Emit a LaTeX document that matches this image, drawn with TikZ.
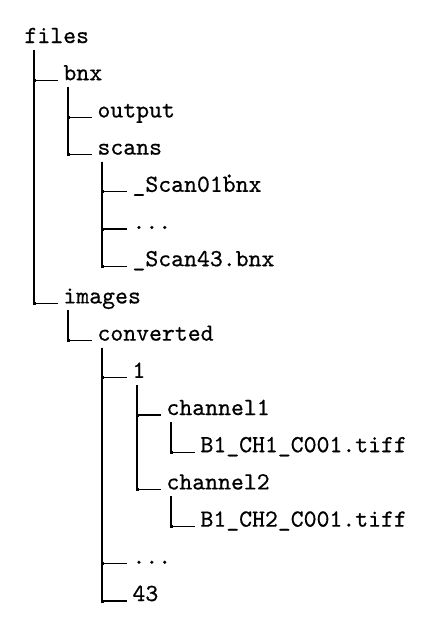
\documentclass[tikz,border=0pt]{standalone}
\usepackage{fontspec}
\setmonofont{Latin Modern Mono}[FakeBold=0.6]
\usetikzlibrary{positioning,calc}
\tikzset{
  entry/.style={anchor=base west, inner sep=0pt, font=\ttfamily},
  branch/.style={draw=black, line width=0.5pt},
  knot/.style={fill=black},
}
% parent, child, offset of the stem
\newcommand{\twig}[3]{%
  \draw[branch] ($(#1.base west)+(#3,7)$) |- coordinate[pos=0.5] (j) ($(#2.base west)+(-5,0)$);
  \fill[knot] ($(j)+(-1.5,-1.5)$) rectangle ($(j)+(1.5,1.5)$);
}

\begin{document}
\begin{tikzpicture}[x=0.407pt, y=-0.407pt]
  \useasboundingbox (0,0) rectangle (424,626);
  \node[entry] (files) at (24,43) {files};
  \node[entry] (bnx) at (63,80.2) {bnx};
  \node[entry] (output) at (97,117.4) {output};
  \node[entry] (scans) at (97,154.6) {scans};
  \node[entry] (scanA) at (132,191.8) {\_Scan01b\llap{\raisebox{5.8pt}{.}}nx};
  \node[entry] (scanM) at (132,229) {...};
  \node[entry] (scanZ) at (132,266.2) {\_Scan43.bnx};
  \node[entry] (images) at (63,303.4) {images};
  \node[entry] (conv) at (97,340.6) {converted};
  \node[entry] (one) at (132,377.8) {1};
  \node[entry] (chA) at (166,415) {channel1};
  \node[entry] (tifA) at (200,452.2) {B1\_CH1\_C001.tiff};
  \node[entry] (chB) at (166,489.4) {channel2};
  \node[entry] (tifB) at (200,526.6) {B1\_CH2\_C001.tiff};
  \node[entry] (dirM) at (132,563.8) {...};
  \node[entry] (last) at (132,601) {43};

  \twig{files}{bnx}{10}
  \twig{files}{images}{10}
  \twig{bnx}{output}{5}
  \twig{bnx}{scans}{5}
  \twig{scans}{scanA}{5}
  \twig{scans}{scanM}{5}
  \twig{scans}{scanZ}{5}
  \twig{images}{conv}{5}
  \twig{conv}{one}{5}
  \twig{conv}{dirM}{5}
  \twig{conv}{last}{5}
  \twig{one}{chA}{5}
  \twig{one}{chB}{5}
  \twig{chA}{tifA}{5}
  \twig{chB}{tifB}{5}
\end{tikzpicture}
\end{document}
